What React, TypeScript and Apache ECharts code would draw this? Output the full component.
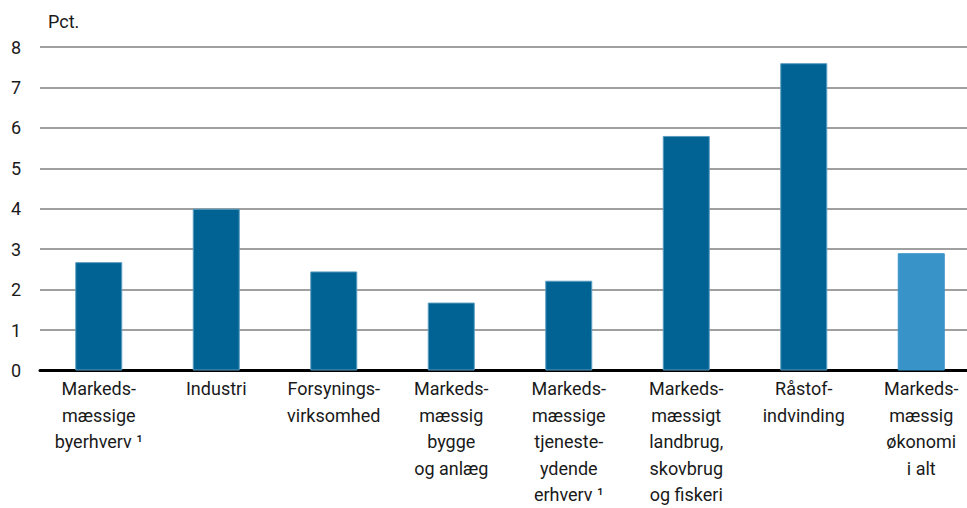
import React, { useEffect, useRef } from "react";
import * as echarts from "echarts";

const categories = [
  "Markeds-\nmæssige\nbyerhverv ¹",
  "Industri",
  "Forsynings-\nvirksomhed",
  "Markeds-\nmæssig\nbygge\nog anlæg",
  "Markeds-\nmæssige\ntjeneste-\nydende\nerhverv ¹",
  "Markeds-\nmæssigt\nlandbrug,\nskovbrug\nog fiskeri",
  "Råstof-\nindvinding",
  "Markeds-\nmæssig\nøkonomi\ni alt",
];
const values = [2.68, 4.0, 2.45, 1.68, 2.22, 5.8, 7.6, 2.9];
const highlightIndex = 7;
const yTicks = [0, 1, 2, 3, 4, 5, 6, 7, 8];

const FONT = "'Roboto', 'Open Sans', sans-serif";

export default function App() {
  const ref = useRef<HTMLDivElement>(null);
  useEffect(() => {
    if (!ref.current) return;
    const chart = echarts.init(ref.current, undefined, { renderer: "svg" });
    chart.setOption({
      animation: false,
      backgroundColor: "#ffffff",
      textStyle: { fontFamily: FONT },
      graphic: [
        {
          type: "text",
          left: 48,
          top: 12,
          style: { text: "Pct.", fontSize: 18, fill: "#1a1a1a", fontFamily: FONT },
        },
      ],
      grid: { left: 40, top: 47, right: 0, bottom: 137, containLabel: false },
      xAxis: {
        type: "category",
        data: categories,
        axisLine: { show: true, lineStyle: { color: "#000", width: 3 } },
        axisTick: { show: false },
        axisLabel: {
          interval: 0,
          color: "#1a1a1a",
          fontSize: 18,
          lineHeight: 26.5,
          margin: 5,
          align: "center",
          fontFamily: FONT,
        },
      },
      yAxis: {
        type: "value",
        min: 0,
        max: 8,
        interval: 1,
        axisLine: { show: false },
        axisTick: { show: false },
        splitLine: { lineStyle: { color: "#a0a0a0", width: 2 } },
        axisLabel: {
          color: "#1a1a1a",
          fontSize: 18,
          margin: 19,
          fontFamily: FONT,
          formatter: (v: number) => (yTicks.includes(v) ? String(v) : ""),
        },
      },
      series: [
        {
          type: "bar",
          barWidth: 47,
          data: values.map((v, i) => ({
            value: v,
            itemStyle: {
              color: i === highlightIndex ? "#3894c8" : "#006394",
              borderColor: i === highlightIndex ? "#3894c8" : "#5a9cc0",
              borderWidth: 1,
            },
          })),
        },
      ],
    });
    return () => chart.dispose();
  }, []);
  return (
    <div
      style={{
        position: "fixed",
        left: 0,
        top: 0,
        width: 967,
        height: 508,
        overflow: "hidden",
        background: "#fff",
      }}
    >
      <div ref={ref} style={{ width: 980, height: 508 }} />
    </div>
  );
}
